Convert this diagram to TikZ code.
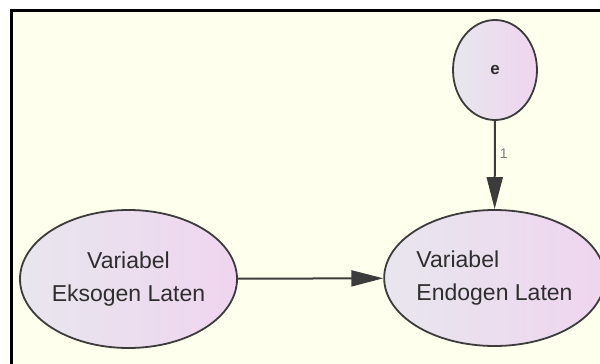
\documentclass[tikz,border=0pt]{standalone}
\usepackage{fontspec}
\setmainfont{Liberation Sans}
\usetikzlibrary{arrows.meta,shapes.geometric}
\definecolor{bgivory}{HTML}{FFFFEE}
\definecolor{fillgray}{HTML}{E8E6EE}
\definecolor{fillpink}{HTML}{EFD5EF}
\definecolor{edgegray}{HTML}{3C3C3C}
\definecolor{txtgray}{HTML}{2E2E2E}
\begin{document}
\begin{tikzpicture}[x=1pt,y=-1pt,
  latent/.style={ellipse, draw=edgegray, line width=1.8pt, left color=fillgray, right color=fillpink,
    minimum width=207pt, minimum height=138pt, inner sep=0pt, text=txtgray,
    font=\fontsize{23}{33}\selectfont},
  errvar/.style={ellipse, draw=edgegray, line width=1.8pt, left color=fillgray, right color=fillpink,
    minimum width=84pt, minimum height=100pt, inner sep=0pt, text=txtgray,
    font=\fontsize{17}{19}\selectfont\bfseries},
  conn/.style={draw=edgegray, line width=2pt, -{Triangle[length=32pt,width=16pt]}},
  wlabel/.style={font=\fontsize{14}{16}\selectfont, text=gray, inner sep=4pt}]
\useasboundingbox (0,0) rectangle (600,364);
\fill[white] (0,0) rectangle (600,364);
\fill[bgivory] (11.5,10.5) rectangle (600,364);
\draw[line width=3pt, black] (11.5,364) -- (11.5,10.5) -- (600,10.5);
\node[latent, align=center] (exo) at (128.5,279) {Variabel\\Eksogen Laten};
\node[latent, align=left, minimum width=205pt, minimum height=136pt] (endo) at (494.5,278) {Variabel\\Endogen Laten};
\node[errvar] (e) at (495,70) {e};
\draw[conn] (e) -- node[wlabel, pos=0.37, right] {1} (endo);
\draw[conn] (exo) -- (endo);
\end{tikzpicture}
\end{document}
